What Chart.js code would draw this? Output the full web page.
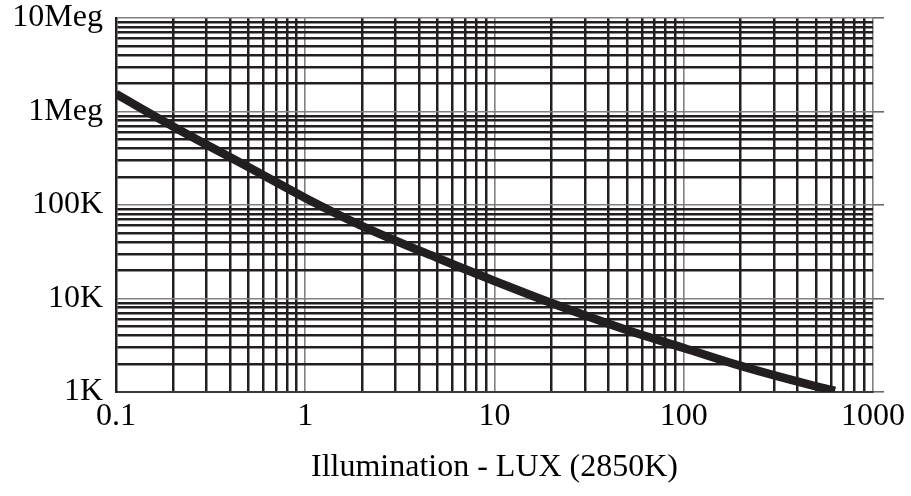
<!DOCTYPE html>
<html>
<head>
<meta charset="utf-8">
<script src="https://cdn.jsdelivr.net/npm/chart.js@4.4.0/dist/chart.umd.min.js"></script>
<style>
  html, body { margin: 0; padding: 0; background: #fff; }
  #wrap { width: 911px; height: 496px; position: relative; }
</style>
</head>
<body>
<div id="wrap"><canvas id="luxChart"></canvas></div>
<script>
// Data
var luxValues = [0.1, 0.2, 0.5, 1, 2, 5, 10, 20, 50, 100, 200, 500, 630];
var resistance = [1540000, 692000, 255000, 119000, 59600, 27100, 15400, 8950, 4600, 2960, 1900, 1150, 1030];

var xTickValues = [0.1, 1, 10, 100, 1000];
var xTickLabels = ['0.1', '1', '10', '100', '1000'];
var yTickValues = [1e3, 1e4, 1e5, 1e6, 1e7];
var yTickLabels = ['1K', '10K', '100K', '1Meg', '10Meg'];

var serif = 'Liberation Serif, Times New Roman, serif';

function isDecade(v) {
    var l = Math.log10(v);
    return Math.abs(l - Math.round(l)) < 1e-6;
}

// grid lines 1..9 of each decade between min and max
function logGrid(min, max) {
    var ticks = [];
    for (var e = Math.round(Math.log10(min)); e < Math.round(Math.log10(max)); e++) {
        for (var k = 1; k < 10; k++) {
            ticks.push({ value: Number((k * Math.pow(10, e)).toPrecision(4)) });
        }
    }
    ticks.push({ value: max });
    return ticks;
}

function labelFor(values, labels, v) {
    for (var i = 0; i < values.length; i++) {
        if (Math.abs(Math.log10(v) - Math.log10(values[i])) < 1e-6) return labels[i];
    }
    return '';
}

var gridColor = function(ctx) { return isDecade(ctx.tick.value) ? '#808080' : '#231f20'; };
var gridWidth = function(ctx) { return isDecade(ctx.tick.value) ? 1.6 : 2.5; };

var ctx = document.getElementById('luxChart').getContext('2d');

var luxChart = new Chart(ctx, {
    type: 'line',
    data: {
        datasets: [{
            data: luxValues.map(function(x, i) { return { x: x, y: resistance[i] }; }),
            borderColor: '#231f20',
            borderWidth: 8.5,
            pointRadius: 0,
            cubicInterpolationMode: 'monotone',
            fill: false
        }]
    },
    options: {
        responsive: true,
        maintainAspectRatio: false,
        animation: false,
        layout: { padding: { left: 0, right: 0, top: 18, bottom: 0 } },
        plugins: {
            legend: { display: false },
            tooltip: { enabled: false }
        },
        scales: {
            x: {
                type: 'logarithmic',
                min: 0.1,
                max: 1000,
                afterBuildTicks: function(scale) { scale.ticks = logGrid(0.1, 1000); },
                afterFit: function(scale) {
                    scale.height = 104;
                    scale.paddingLeft = 0;
                    scale.paddingRight = 0;
                },
                grid: { color: gridColor, lineWidth: gridWidth, drawTicks: false },
                border: { color: '#3a3a3a', width: 2 },
                ticks: {
                    autoSkip: false,
                    maxRotation: 0,
                    padding: 5,
                    color: '#000',
                    font: { family: serif, size: 32 },
                    callback: function(value) { return labelFor(xTickValues, xTickLabels, value); }
                },
                title: {
                    display: true,
                    text: 'Illumination - LUX (2850K)',
                    color: '#000',
                    font: { family: serif, size: 32 },
                    padding: { top: 0, bottom: 9 }
                }
            },
            y: {
                type: 'logarithmic',
                min: 1e3,
                max: 1e7,
                afterBuildTicks: function(scale) { scale.ticks = logGrid(1e3, 1e7); },
                afterFit: function(scale) {
                    scale.width = 116;
                    scale.paddingTop = 0;
                    scale.paddingBottom = 0;
                },
                grid: { color: gridColor, lineWidth: gridWidth, drawTicks: false },
                border: { color: '#231f20', width: 2.5 },
                ticks: {
                    autoSkip: false,
                    padding: 13,
                    color: '#000',
                    font: { family: serif, size: 32 },
                    callback: function(value) { return labelFor(yTickValues, yTickLabels, value); }
                }
            },
            // short decade marks sticking out on the right side
            yRight: {
                type: 'logarithmic',
                position: 'right',
                min: 1e3,
                max: 1e7,
                afterBuildTicks: function(scale) { scale.ticks = logGrid(1e3, 1e7); },
                afterFit: function(scale) {
                    scale.width = 38;
                    scale.paddingTop = 0;
                    scale.paddingBottom = 0;
                },
                grid: {
                    drawOnChartArea: false,
                    drawTicks: true,
                    tickLength: 11,
                    lineWidth: 1.6,
                    color: function(ctx) { return isDecade(ctx.tick.value) ? '#6a6a6a' : 'rgba(0,0,0,0)'; }
                },
                border: { display: false },
                ticks: { display: false, autoSkip: false }
            }
        }
    }
});
</script>
</body>
</html>
